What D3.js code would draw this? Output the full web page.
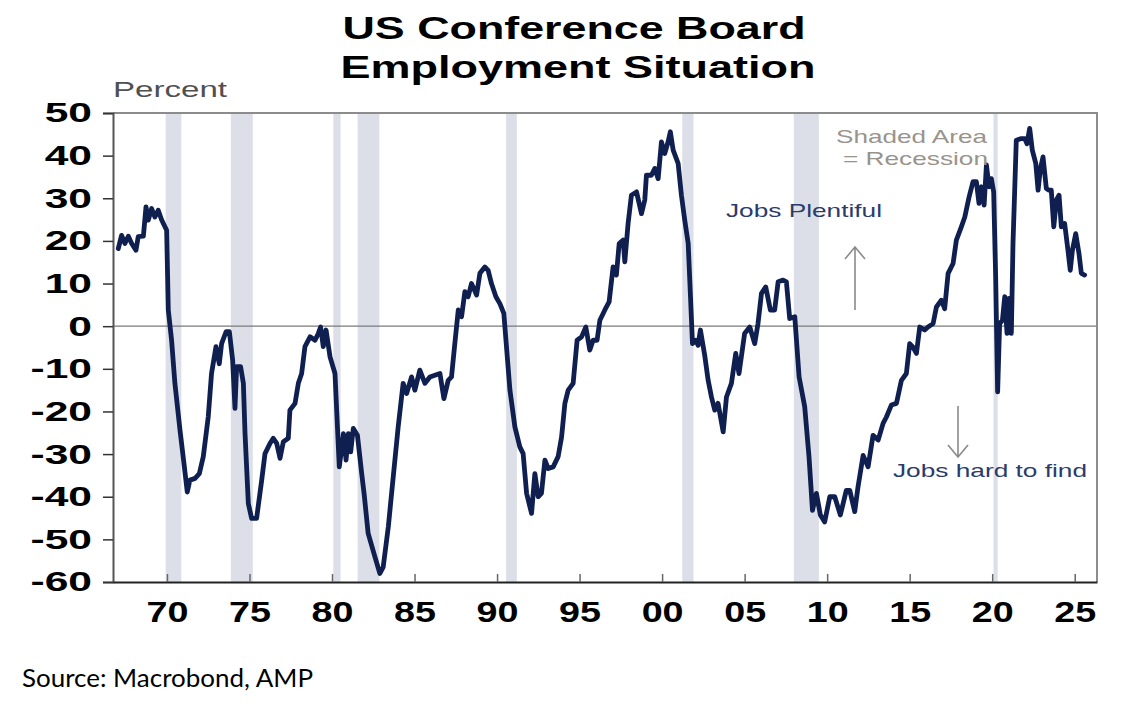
<!DOCTYPE html>
<html>
<head>
<meta charset="utf-8">
<script src="https://cdn.jsdelivr.net/npm/d3@7"></script>
<style>
  body { margin: 0; background: #fff; }
  svg { display: block; }
</style>
</head>
<body>
<svg id="chart" width="1144" height="714"></svg>
<script>
// Conference Board labour differential (decimal years)
const years = [
    1967.05, 1967.25, 1967.45, 1967.66, 1967.86, 1968.12, 1968.26, 1968.57, 1968.73, 1968.87,
    1969.07, 1969.27, 1969.47, 1969.68, 1969.98, 1970.08, 1970.28, 1970.48, 1970.79, 1971.03,
    1971.23, 1971.39, 1971.70, 1971.96, 1972.20, 1972.50, 1972.70, 1972.97, 1973.17, 1973.31,
    1973.58, 1973.78, 1973.98, 1974.12, 1974.22, 1974.46, 1974.63, 1974.73, 1974.93, 1975.13,
    1975.43, 1975.74, 1975.94, 1976.24, 1976.44, 1976.65, 1976.85, 1977.05, 1977.35, 1977.45,
    1977.76, 1977.96, 1978.16, 1978.36, 1978.67, 1978.97, 1979.17, 1979.31, 1979.47, 1979.64,
    1979.88, 1980.18, 1980.44, 1980.69, 1980.85, 1980.99, 1981.13, 1981.29, 1981.54, 1981.80,
    1981.95, 1982.19, 1982.60, 1982.90, 1983.10, 1983.41, 1983.71, 1984.01, 1984.31, 1984.52,
    1984.82, 1985.02, 1985.32, 1985.63, 1985.93, 1986.23, 1986.54, 1986.78, 1987.04, 1987.24,
    1987.44, 1987.65, 1987.85, 1988.05, 1988.25, 1988.45, 1988.76, 1988.96, 1989.26, 1989.46,
    1989.66, 1989.93, 1990.17, 1990.41, 1990.57, 1990.78, 1991.08, 1991.38, 1991.58, 1991.79,
    1992.09, 1992.29, 1992.49, 1992.69, 1992.90, 1993.10, 1993.40, 1993.70, 1993.91, 1994.11,
    1994.31, 1994.61, 1994.85, 1995.12, 1995.38, 1995.62, 1995.82, 1996.06, 1996.23, 1996.53,
    1996.79, 1997.03, 1997.23, 1997.40, 1997.64, 1997.74, 1997.94, 1998.14, 1998.45, 1998.75,
    1998.95, 1999.05, 1999.35, 1999.56, 1999.76, 1999.96, 2000.16, 2000.36, 2000.50, 2000.67,
    2000.97, 2001.17, 2001.37, 2001.58, 2001.72, 2001.84, 2002.04, 2002.18, 2002.32, 2002.58,
    2002.79, 2002.99, 2003.19, 2003.39, 2003.70, 2003.90, 2004.20, 2004.46, 2004.66, 2005.00,
    2005.31, 2005.61, 2005.81, 2006.02, 2006.28, 2006.56, 2006.82, 2007.03, 2007.33, 2007.53,
    2007.73, 2008.04, 2008.30, 2008.64, 2008.90, 2009.11, 2009.35, 2009.59, 2009.85, 2010.16,
    2010.46, 2010.80, 2011.16, 2011.37, 2011.67, 2011.87, 2012.18, 2012.48, 2012.78, 2013.09,
    2013.39, 2013.59, 2013.89, 2014.20, 2014.50, 2014.80, 2015.00, 2015.20, 2015.41, 2015.61,
    2015.91, 2016.11, 2016.42, 2016.62, 2016.92, 2017.12, 2017.33, 2017.63, 2017.83, 2018.13,
    2018.34, 2018.60, 2018.84, 2019.04, 2019.20, 2019.35, 2019.51, 2019.65, 2019.81, 2019.95,
    2020.09, 2020.21, 2020.33, 2020.45, 2020.62, 2020.76, 2020.90, 2021.02, 2021.16, 2021.26,
    2021.46, 2021.77, 2021.97, 2022.11, 2022.27, 2022.43, 2022.64, 2022.78, 2022.92, 2023.08,
    2023.28, 2023.44, 2023.58, 2023.73, 2023.89, 2024.05, 2024.19, 2024.39, 2024.59, 2024.73,
    2024.86, 2025.06, 2025.26, 2025.40, 2025.60
]

const values = [
    18.2, 21.3, 19.4, 21.1, 19.4, 17.8, 21.0, 21.1, 28.0, 24.9,
    27.6, 25.6, 27.2, 24.9, 22.5, 3.8, -3.3, -13.4, -24.4, -32.2,
    -38.9, -36.1, -35.7, -34.6, -30.6, -21.3, -11.1, -4.8, -8.8, -4.1,
    -1.3, -1.3, -8.0, -19.3, -9.5, -9.5, -13.4, -25.2, -41.6, -45.1,
    -45.1, -36.1, -29.9, -27.5, -26.3, -27.5, -31.0, -27.1, -26.3, -19.7,
    -18.1, -13.4, -11.1, -4.8, -2.5, -3.3, -1.7, -0.2, -4.8, -0.9,
    -7.2, -11.1, -33.0, -25.2, -31.4, -25.2, -29.5, -24.0, -25.6, -34.6,
    -39.5, -48.6, -54.1, -58.0, -56.5, -47.1, -35.3, -23.6, -13.4, -15.8,
    -11.9, -15.0, -10.3, -13.4, -11.9, -11.5, -11.1, -17.0, -12.7, -11.9,
    -4.1, 3.8, 2.2, 8.1, 6.9, 10.0, 7.3, 12.4, 13.9, 13.1,
    10.0, 6.9, 5.3, 3.0, -4.8, -15.0, -23.6, -28.3, -29.9, -39.2,
    -43.9, -34.6, -40.0, -39.2, -31.4, -33.4, -33.0, -30.6, -26.0, -18.1,
    -15.0, -13.4, -3.3, -2.5, -0.2, -5.6, -3.3, -3.3, 1.4, 3.8,
    5.7, 13.9, 12.0, 19.4, 20.2, 15.1, 24.1, 30.7, 31.5, 26.4,
    29.6, 35.4, 35.4, 37.0, 34.6, 43.2, 40.5, 43.2, 45.6, 41.3,
    38.2, 30.7, 24.9, 19.4, 6.9, -4.1, -3.3, -4.5, -0.9, -6.8,
    -12.7, -16.6, -19.7, -18.1, -24.8, -16.6, -13.4, -6.4, -11.1, -1.7,
    -0.2, -4.1, 0.6, 7.7, 9.2, 3.8, 3.8, 10.4, 10.8, 10.4,
    1.8, 2.2, -11.9, -18.9, -30.6, -43.2, -39.2, -44.3, -45.9, -40.0,
    -40.0, -44.3, -38.5, -38.5, -43.5, -37.7, -30.3, -33.0, -25.6, -26.7,
    -22.8, -21.3, -18.5, -18.1, -12.7, -11.1, -4.1, -4.9, -6.4, -0.2,
    -0.9, -0.2, 0.6, 4.5, 6.1, 4.1, 12.4, 14.7, 20.2, 23.3,
    25.6, 30.3, 33.9, 33.9, 28.8, 32.7, 28.4, 37.8, 32.7, 34.6,
    31.5, 11.6, -15.4, 0.6, 1.4, 6.9, -1.7, 6.5, -1.7, 19.4,
    43.6, 44.0, 44.0, 42.8, 46.4, 41.3, 38.2, 31.9, 37.0, 39.7,
    32.3, 31.9, 31.9, 23.3, 29.6, 30.7, 23.3, 24.1, 17.8, 13.1,
    17.8, 21.7, 17.0, 12.4, 12.0
]

// US recessions (decimal years)
const recessionStart = [1969.92, 1973.87, 1980.08, 1981.55, 1990.55, 2001.22, 2007.98, 2020.08]
const recessionEnd   = [1970.87, 1975.20, 1980.52, 1982.87, 1991.20, 2001.90, 2009.50, 2020.33]

const xTicks = [1970, 1975, 1980, 1985, 1990, 1995, 2000, 2005, 2010, 2015, 2020, 2025]
const xTickLabels = ['70', '75', '80', '85', '90', '95', '00', '05', '10', '15', '20', '25']
const yTicks = [50, 40, 30, 20, 10, 0, -10, -20, -30, -40, -50, -60]

const svg = d3.select('#chart')

const x = d3.scaleLinear().domain([1966.73, 2026.35]).range([113, 1097])
const y = d3.scaleLinear().domain([-60, 50]).range([582, 113])

// the source image is stretched sideways, so widen text to match
const stretch = (sel, k) => sel.each(function() {
    const w = this.getComputedTextLength()
    d3.select(this).attr('textLength', w * k).attr('lengthAdjust', 'spacingAndGlyphs')
})
const fitTo = (sel, w) => sel.attr('textLength', w).attr('lengthAdjust', 'spacingAndGlyphs')

// recession bands
svg.append('g')
    .selectAll('rect')
    .data(recessionStart)
    .join('rect')
    .attr('x', (d, i) => x(d))
    .attr('y', y(50))
    .attr('width', (d, i) => x(recessionEnd[i]) - x(d))
    .attr('height', y(-60) - y(50))
    .attr('fill', '#dcdfe7')

// zero line
svg.append('line')
    .attr('x1', x.range()[0]).attr('x2', x.range()[1])
    .attr('y1', y(0)).attr('y2', y(0))
    .attr('stroke', '#7a7a7a')
    .attr('stroke-width', 1.2)

// frame top / right
svg.append('path')
    .attr('d', `M${x.range()[0]},${y(50)}H${x.range()[1]}V${y(-60)}`)
    .attr('fill', 'none')
    .attr('stroke', '#8c8c8c')
    .attr('stroke-width', 2)

// series
const line = d3.line()
    .x((d, i) => x(years[i]))
    .y(d => y(d))

svg.append('path')
    .datum(values)
    .attr('d', line)
    .attr('fill', 'none')
    .attr('stroke', '#0f1f50')
    .attr('stroke-width', 4.8)
    .attr('stroke-linejoin', 'round')
    .attr('stroke-linecap', 'round')

// y axis, plain hyphen for negatives
const yAxis = svg.append('g')
    .attr('transform', `translate(${x.range()[0]},0)`)
    .call(d3.axisLeft(y).tickValues(yTicks).tickFormat(d => String(d)).tickSize(10).tickPadding(11))

yAxis.select('.domain').attr('stroke', '#555').attr('stroke-width', 2)
yAxis.selectAll('.tick line').attr('stroke', '#333').attr('stroke-width', 1.5)
yAxis.selectAll('text')
    .attr('fill', '#000')
    .style('font-family', '"Liberation Sans", Arial, sans-serif')
    .style('font-weight', 'bold')
    .style('font-size', '28px')
    .call(stretch, 1.52)

// x axis, ticks point inward
const xAxis = svg.append('g')
    .attr('transform', `translate(0,${y.range()[0]})`)
    .call(d3.axisBottom(x).tickValues(xTicks).tickFormat((d, i) => xTickLabels[i]).tickSizeInner(-8).tickSizeOuter(0))

xAxis.select('.domain').attr('stroke', '#222').attr('stroke-width', 2)
xAxis.selectAll('.tick line').attr('stroke', '#666').attr('stroke-width', 1.5)
xAxis.selectAll('text')
    .attr('y', 40)
    .attr('dy', 0)
    .attr('fill', '#000')
    .style('font-family', '"Liberation Sans", Arial, sans-serif')
    .style('font-weight', 'bold')
    .style('font-size', '29px')
    .call(stretch, 1.3)

// title
const title = svg.append('g')
    .style('font-family', '"Liberation Sans", Arial, sans-serif')
    .style('font-weight', 'bold')
    .style('font-size', '31px')
    .attr('text-anchor', 'middle')

title.append('text').attr('x', 574).attr('y', 39).text('US Conference Board').call(fitTo, 463)
title.append('text').attr('x', 578).attr('y', 78).text('Employment Situation').call(fitTo, 475)

// unit label
svg.append('text')
    .attr('x', 113).attr('y', 97)
    .attr('fill', '#505050')
    .style('font-family', '"Liberation Sans", Arial, sans-serif')
    .style('font-size', '22px')
    .text('Percent')
    .call(fitTo, 114)

// annotations
const notes = svg.append('g')
    .style('font-family', '"Liberation Sans", Arial, sans-serif')
    .style('font-size', '19px')

notes.append('text').attr('x', 836).attr('y', 143).attr('fill', '#99938c').text('Shaded Area').call(fitTo, 151)
notes.append('text').attr('x', 843).attr('y', 165).attr('fill', '#99938c').text('= Recession').call(fitTo, 145)
notes.append('text').attr('x', 726).attr('y', 217).attr('fill', '#2a3b6c').text('Jobs Plentiful').call(fitTo, 156)
notes.append('text').attr('x', 893).attr('y', 477).attr('fill', '#2a3b6c').text('Jobs hard to find').call(fitTo, 194)

const arrows = svg.append('g')
    .attr('fill', 'none')
    .attr('stroke', '#8a8a8a')
    .attr('stroke-width', 1.6)

arrows.append('path').attr('d', 'M855,310V247M845,259L855,247L865,259')
arrows.append('path').attr('d', 'M958,406V457M948,445L958,457L968,445')

// source
svg.append('text')
    .attr('x', 22).attr('y', 687)
    .attr('fill', '#000')
    .style('font-family', 'Lato, "Open Sans", sans-serif')
    .style('font-size', '25px')
    .text('Source: Macrobond, AMP')
    .call(fitTo, 291)
</script>
</body>
</html>
